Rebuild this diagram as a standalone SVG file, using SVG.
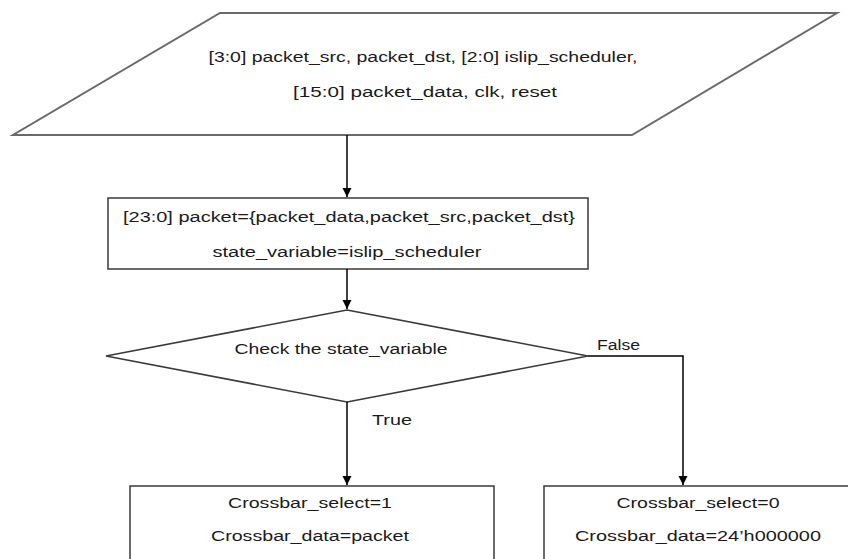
<svg xmlns="http://www.w3.org/2000/svg" width="848" height="559" viewBox="0 0 848 559">
<style>
.shape{fill:#fff;stroke:#3a3a3a;stroke-width:1.5}
.io{fill:#fff;stroke:#6a6a6a;stroke-width:2}
.conn{fill:none;stroke:#000;stroke-width:1.5}
text{font-family:"Liberation Sans","Open Sans",Arial,sans-serif;font-size:14px;fill:#1a1a1a}
.c{text-anchor:middle}
</style>
<defs>
<marker id="arr" markerWidth="10" markerHeight="10" refX="9" refY="5" orient="auto" markerUnits="userSpaceOnUse">
<path d="M0,0.5 L9,5 L0,9.5 Z" fill="#000"/>
</marker>
</defs>
<rect width="848" height="559" fill="#fff"/>
<g id="inputs">
<polygon class="io" points="220,13 837,13 632,135 13,135"/>
<text class="c" x="423" y="62" textLength="429" lengthAdjust="spacingAndGlyphs">[3:0] packet_src, packet_dst, [2:0] islip_scheduler,</text>
<text class="c" x="425" y="97" textLength="264" lengthAdjust="spacingAndGlyphs">[15:0] packet_data, clk, reset</text>
</g>
<g id="assign">
<rect class="shape" x="108" y="198" width="480" height="71"/>
<text class="c" x="349" y="222" textLength="452" lengthAdjust="spacingAndGlyphs">[23:0] packet={packet_data,packet_src,packet_dst}</text>
<text class="c" x="347" y="257" textLength="269" lengthAdjust="spacingAndGlyphs">state_variable=islip_scheduler</text>
</g>
<g id="check">
<polygon class="shape" points="347,310 588,356 347,402 106,356"/>
<text class="c" x="341" y="354" textLength="213" lengthAdjust="spacingAndGlyphs">Check the state_variable</text>
</g>
<g id="true-box">
<rect class="shape" x="130" y="486" width="364" height="90"/>
<text class="c" x="310" y="508" textLength="164" lengthAdjust="spacingAndGlyphs">Crossbar_select=1</text>
<text class="c" x="310" y="541" textLength="198" lengthAdjust="spacingAndGlyphs">Crossbar_data=packet</text>
</g>
<g id="false-box">
<rect class="shape" x="544" y="486" width="320" height="90"/>
<text class="c" x="698" y="508" textLength="163" lengthAdjust="spacingAndGlyphs">Crossbar_select=0</text>
<text class="c" x="698" y="541" textLength="246" lengthAdjust="spacingAndGlyphs">Crossbar_data=24’h000000</text>
</g>
<g id="connectors">
<line class="conn" x1="347" y1="135" x2="347" y2="197" marker-end="url(#arr)"/>
<line class="conn" x1="347" y1="269" x2="347" y2="309" marker-end="url(#arr)"/>
<line class="conn" x1="347" y1="402" x2="347" y2="485" marker-end="url(#arr)"/>
<polyline class="conn" points="588,356 683,356 683,485" marker-end="url(#arr)"/>
<text x="597" y="350" textLength="43" lengthAdjust="spacingAndGlyphs">False</text>
<text x="372" y="425" textLength="40" lengthAdjust="spacingAndGlyphs">True</text>
</g>
</svg>
